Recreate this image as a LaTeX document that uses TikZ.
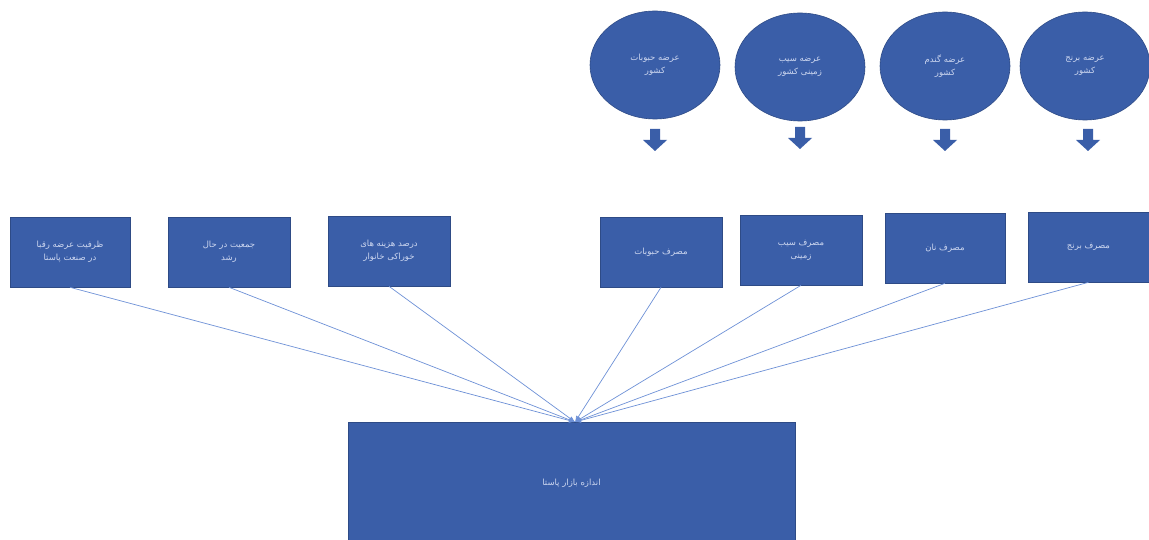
\documentclass[tikz,border=0pt]{standalone}
\usepackage{fontspec}
\TeXXeTstate=1
\newfontfamily\arabicfont[Script=Arabic]{DejaVu Sans}
\usetikzlibrary{arrows.meta,shapes.geometric}
\definecolor{boxblue}{RGB}{58,94,168}
\definecolor{linkblue}{RGB}{110,145,215}
\definecolor{txt}{RGB}{205,215,240}
\newcommand{\ar}[1]{{\arabicfont\beginR #1\endR}}
\tikzset{
  box/.style={draw=boxblue!80!black, line width=0.6pt, fill=boxblue, text=txt, font=\fontsize{8.5}{13}\selectfont, align=center, inner sep=2pt},
  sbox/.style={box, minimum width=122pt, minimum height=70pt},
  oval/.style={ellipse, fill=boxblue, draw=boxblue!80!black, line width=0.6pt, text=txt, font=\fontsize{8.5}{13}\selectfont, align=center, minimum width=130pt, minimum height=108pt, inner sep=0pt},
  blockarrow/.style={fill=boxblue},
  conn/.style={draw=linkblue, line width=0.7pt, -{Latex[length=6pt,width=5pt]}}
}
\newcommand{\blockdown}[1]{\fill[blockarrow] ([xshift=-5pt,yshift=12pt]#1) -- ([xshift=5pt,yshift=12pt]#1) -- ([xshift=5pt,yshift=1pt]#1) -- ([xshift=12pt,yshift=1pt]#1) -- ([yshift=-10pt]#1) -- ([xshift=-12pt,yshift=1pt]#1) -- ([xshift=-5pt,yshift=1pt]#1) -- cycle;}
\begin{document}
\begin{tikzpicture}[x=1pt,y=-1pt]
\useasboundingbox[fill=white] (0,0) rectangle (1149,540);
% circles
\node[oval] (c1) at (655,65) {\ar{عرضه حبوبات}\\\ar{کشور}};
\node[oval] (c2) at (800,67) {\ar{عرضه سیب}\\\ar{زمینی کشور}};
\node[oval] (c3) at (945,66) {\ar{عرضه گندم}\\\ar{کشور}};
\node[oval] (c4) at (1085,66) {\ar{عرضه برنج}\\\ar{کشور}};
% block arrows
\coordinate (a1) at (655,141);
\coordinate (a2) at (800,139);
\coordinate (a3) at (945,141);
\coordinate (a4) at (1088,141);
\blockdown{a1}\blockdown{a2}\blockdown{a3}\blockdown{a4}
% left boxes
\node[sbox, minimum width=120pt] (l1) at (70,252) {\ar{ظرفیت عرضه رقبا}\\\ar{در صنعت پاستا}};
\node[sbox] (l2) at (229,252) {\ar{جمعیت در حال}\\\ar{رشد}};
\node[sbox] (l3) at (389,251) {\ar{درصد هزینه های}\\\ar{خوراکی خانوار}};
% right boxes
\node[sbox] (r1) at (661,252) {\ar{مصرف حبوبات}};
\node[sbox] (r2) at (801,250) {\ar{مصرف سیب}\\\ar{زمینی}};
\node[sbox, minimum width=120pt] (r3) at (945,248) {\ar{مصرف نان}};
\node[sbox, minimum width=121pt] (r4) at (1088.5,247) {\ar{مصرف برنج}};
% big box
\node[box, minimum width=447pt, minimum height=122pt] (big) at (571.5,483) {\ar{اندازه بازار پاستا}};
\coordinate (tgt) at (575,422);
\foreach \n in {l1,l2,l3,r1,r2,r3,r4}{
  \draw[conn] (\n.south) -- (tgt);
}
\end{tikzpicture}
\end{document}
